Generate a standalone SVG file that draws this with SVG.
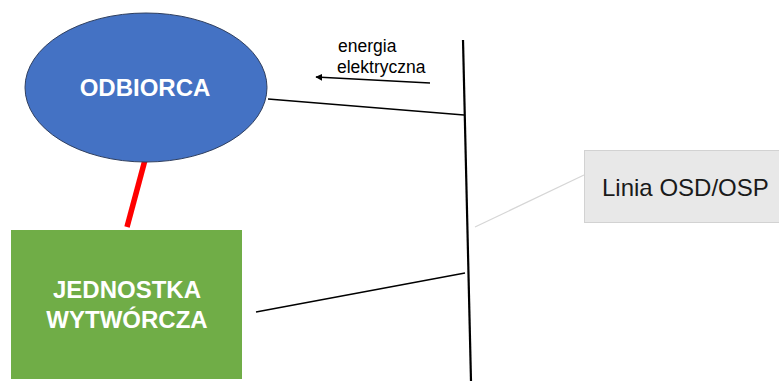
<svg xmlns="http://www.w3.org/2000/svg" width="779" height="381" viewBox="0 0 779 381">
  <defs>
    <marker id="arrowhead" viewBox="0 0 10 10" refX="9" refY="5" markerWidth="7" markerHeight="7" orient="auto-start-reverse" markerUnits="userSpaceOnUse">
      <path d="M0,0 L10,5 L0,10 z" fill="#000"/>
    </marker>
  </defs>
  <style>
    .node-label { font-family: "Liberation Sans", Arial, sans-serif; font-weight: bold; font-size: 24px; fill: #ffffff; text-anchor: middle; }
    .note { font-family: "Liberation Sans", Arial, sans-serif; font-size: 17.5px; fill: #000; }
    .wire { stroke: #000; stroke-width: 1.3; fill: none; }
  </style>
  <rect width="779" height="381" fill="#ffffff"/>

  <g id="connectors">
    <!-- main grid line -->
    <line x1="463" y1="40" x2="471" y2="381" stroke="#000" stroke-width="2.2"/>
    <!-- consumer tie -->
    <line class="wire" x1="268" y1="99" x2="464" y2="115"/>
    <!-- generator tie -->
    <line class="wire" x1="256" y1="312" x2="465" y2="273"/>
    <!-- consumer to generator link -->
    <line x1="145" y1="160" x2="127" y2="227" stroke="#ff0000" stroke-width="5.5"/>
    <!-- energy flow arrow -->
    <line x1="430" y1="83" x2="316" y2="77" stroke="#000" stroke-width="1.3" marker-end="url(#arrowhead)"/>
    <!-- callout leader -->
    <line x1="475" y1="227" x2="584" y2="175" stroke="#d6d6d6" stroke-width="1.2"/>
  </g>

  <g id="odbiorca">
    <ellipse cx="146" cy="87.5" rx="121" ry="74.5" fill="#4472c4" stroke="#2f3f5f" stroke-width="1"/>
    <text class="node-label" x="145" y="96">ODBIORCA</text>
  </g>

  <g id="jednostka">
    <rect x="11" y="230" width="231" height="149" fill="#70ad47"/>
    <text class="node-label" x="127" y="298">JEDNOSTKA</text>
    <text class="node-label" x="127" y="328">WYTWÓRCZA</text>
  </g>

  <g id="energia-label">
    <text class="note" x="338" y="52">energia</text>
    <text class="note" x="337" y="73">elektryczna</text>
  </g>

  <g id="linia-callout">
    <rect x="584.5" y="150.5" width="200" height="72" fill="#e8e8e8" stroke="#d2d2d2" stroke-width="1"/>
    <text x="602" y="196" font-family="'Liberation Sans', Arial, sans-serif" font-size="24" fill="#1a1a1a">Linia OSD/OSP</text>
  </g>
</svg>
